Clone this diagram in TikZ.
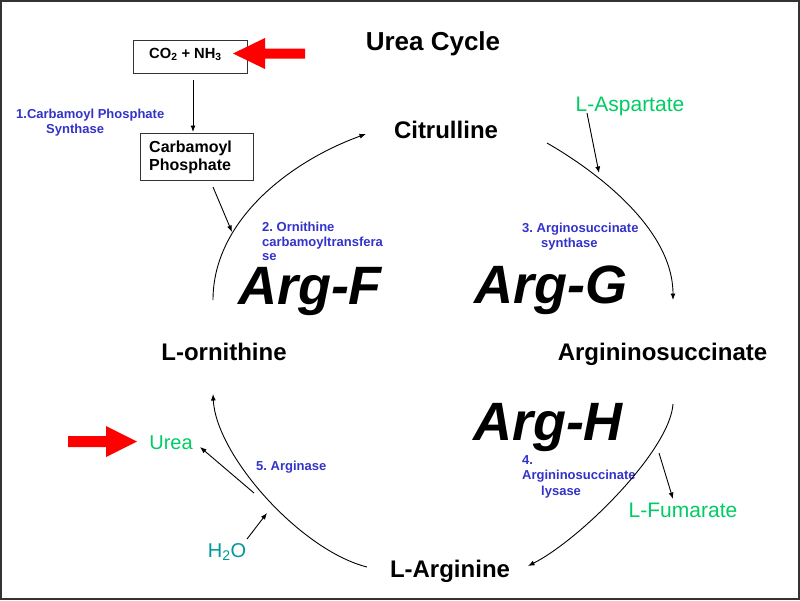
\documentclass[tikz,border=0pt]{standalone}
\usepackage{fontspec}
\setmainfont{Liberation Sans}
\usetikzlibrary{arrows.meta}
\frenchspacing
\definecolor{enzblue}{HTML}{3333CC}
\definecolor{prodgreen}{HTML}{00CC66}
\definecolor{waterteal}{HTML}{009999}
\definecolor{framegray}{HTML}{333333}
\tikzset{
  metab/.style={font=\fontsize{24}{28}\selectfont\bfseries, anchor=base, inner sep=0pt},
  argtxt/.style={font=\fontsize{54}{60}\selectfont\bfseries\itshape, anchor=base, inner sep=0pt},
  enz/.style={font=\fontsize{13}{15.5}\selectfont\bfseries, text=enzblue, anchor=base west, inner sep=0pt},
  side/.style={font=\fontsize{21}{24}\selectfont, anchor=base, inner sep=0pt},
  boxed/.style={draw=framegray, line width=0.9pt, inner sep=0pt},
  conn/.style={line width=0.9pt, -{Latex[length=6.5pt,width=5pt]}},
  bigarrow/.style={fill=red, draw=none},
}
\begin{document}
\begin{tikzpicture}[x=1pt,y=-1pt]
\useasboundingbox (0,0) rectangle (800,600);
\fill[white] (0,0) rectangle (800,600);
\draw[framegray, line width=2pt] (1,1) rectangle (799,599);

% title
\node[font=\fontsize{26}{30}\selectfont\bfseries, anchor=base, inner sep=0pt] (title) at (433,50) {Urea Cycle};

% boxes
\node[boxed, minimum width=114pt, minimum height=33pt] (co2box) at (190,56.5) {};
\node[font=\fontsize{14.7}{17}\selectfont\bfseries, anchor=base west, inner sep=0pt] (co2) at (149,58.5) {CO\textsubscript{2} + NH\textsubscript{3}};
\node[boxed, minimum width=113pt, minimum height=47pt] (cpbox) at (196.5,156.5) {};
\node[font=\fontsize{16}{18}\selectfont\bfseries, anchor=base west, inner sep=0pt] (cp1) at (149,152.5) {Carbamoyl};
\node[font=\fontsize{16}{18}\selectfont\bfseries, anchor=base west, inner sep=0pt] (cp2) at (149,170.5) {Phosphate};

% metabolites
\node[metab] (citr) at (446,138) {Citrulline};
\node[metab] (orn) at (224,360) {L-ornithine};
\node[metab] (asuc) at (662.5,360) {Argininosuccinate};
\node[metab] (arg) at (450,577) {L-Arginine};

% big labels
\node[argtxt] (argF) at (310,304) {Arg-F};
\node[argtxt] (argG) at (551,303) {Arg-G};
\node[argtxt] (argH) at (548,440) {Arg-H};

% side products
\node[side, text=prodgreen] (asp) at (630,111) {L-Aspartate};
\node[side, text=prodgreen] (fum) at (683,517) {L-Fumarate};
\node[side, text=prodgreen, font=\fontsize{20}{24}\selectfont] (urea) at (171,449) {Urea};
\node[side, text=waterteal, font=\fontsize{20}{24}\selectfont] (water) at (227,557) {H\textsubscript{2}O};

% enzymes
\node[enz] (e1a) at (16,118) {1.Carbamoyl Phosphate};
\node[enz] (e1b) at (46,133.5) {Synthase};
\node[enz] (e2a) at (262,231.5) {2. Ornithine};
\node[enz] (e2b) at (262,246) {carbamoyltransfera};
\node[enz] (e2c) at (262,260) {se};
\node[enz] (e3a) at (522,232) {3. Arginosuccinate};
\node[enz] (e3b) at (541,247.5) {synthase};
\node[enz] (e4a) at (522,464) {4.};
\node[enz] (e4b) at (522,479.5) {Argininosuccinate};
\node[enz] (e4c) at (541,495) {lysase};
\node[enz] (e5) at (256,470.5) {5. Arginase};

% cycle arc end points
\coordinate (ltS) at (213,300);
\coordinate (ltE) at (366,134);
\coordinate (rtS) at (547,143);
\coordinate (rtE) at (673,300);
\coordinate (rbS) at (673,404);
\coordinate (rbE) at (528,566);
\coordinate (lbS) at (367,567);
\coordinate (lbE) at (213,394);

\draw[conn] (ltS) .. controls (213,220) and (291,161) .. (ltE);
\draw[conn] (rtS) .. controls (599,173) and (673,230) .. (rtE);
\draw[conn] (rbS) .. controls (670,450) and (581,539) .. (rbE);
\draw[conn] (lbS) .. controls (300,550) and (216,455) .. (lbE);

% side arrows
\coordinate (co2out) at (193,80);
\coordinate (cpin) at (193,132);
\draw[conn] (co2out) -- (cpin);
\coordinate (cpout) at (213,187);
\coordinate (cpend) at (232,232);
\draw[conn] (cpout) -- (cpend);
\coordinate (aspS) at (587,113);
\coordinate (aspE) at (599,173);
\draw[conn] (aspS) -- (aspE);
\coordinate (fumS) at (659,453);
\coordinate (fumE) at (673,499);
\draw[conn] (fumS) -- (fumE);
\coordinate (ureaS) at (254,493);
\coordinate (ureaE) at (200,447);
\draw[conn] (ureaS) -- (ureaE);
\coordinate (h2oS) at (247,539);
\coordinate (h2oE) at (267,513);
\draw[conn] (h2oS) -- (h2oE);

% red arrows
\fill[bigarrow] (233,53.5) -- (265,38) -- (265,48.5) -- (305,48.5) -- (305,58.5) -- (265,58.5) -- (265,69) -- cycle;
\fill[bigarrow] (137,441.5) -- (106,426) -- (106,436) -- (68,436) -- (68,447) -- (106,447) -- (106,457) -- cycle;
\end{tikzpicture}
\end{document}
